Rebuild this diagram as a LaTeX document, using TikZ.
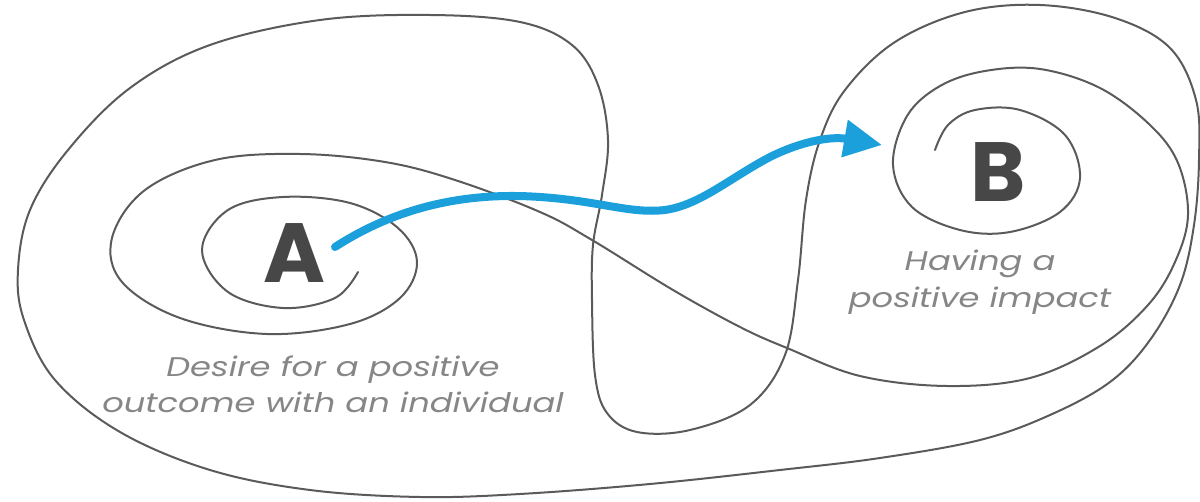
\documentclass[tikz,border=0pt]{standalone}
\usepackage{fontspec}
\setmainfont{Poppins}
\newfontfamily\capfont{Poppins}[FakeStretch=1.25]
\usetikzlibrary{arrows.meta}
\definecolor{linegray}{HTML}{5A5A5A}
\definecolor{arrowblue}{HTML}{1BA0DC}
\definecolor{lettergray}{HTML}{474747}
\definecolor{textgray}{HTML}{868686}
\tikzset{
  curve/.style={draw=linegray, line width=2pt, line join=round, line cap=round},
  flow/.style={draw=arrowblue, line width=8pt, line cap=round, -{Triangle[length=38pt,width=36pt]}},
  letter/.style={text=lettergray, font=\fontsize{84}{84}\selectfont\bfseries, inner sep=0pt, anchor=base},
  caption/.style={text=textgray, font=\capfont\fontsize{27}{27}\selectfont\itshape, inner sep=0pt, anchor=base}
}
\begin{document}
\begin{tikzpicture}[x=1pt,y=-1pt]
\useasboundingbox (0,0) rectangle (1200,502);
% outer closed loop
\draw[curve] plot[smooth cycle, tension=0.6] coordinates {
(430,15) (520,22) (572,45) (598,85) (608,140) (602,195) (593,245) (592,300)
(595,375) (607,413) (637,432) (690,430) (750,405) (785,355) (798,280) (806,200)
(820,140) (845,90) (895,42) (965,12) (1040,5) (1115,18) (1170,48) (1196,100)
(1199,160) (1194,225) (1180,285) (1150,340) (1110,382) (1050,415) (980,440)
(880,458) (780,470) (650,484) (520,494) (420,497) (310,490) (210,470) (120,432)
(55,380) (24,320) (18,270) (30,210) (68,150) (130,88) (210,45) (320,20)};
% spiral from A to B
\draw[curve] plot[smooth, tension=0.6] coordinates {
(358,272) (335,298) (283,308) (228,292) (202,250) (228,210) (283,197) (350,203)
(398,228) (417,262) (400,298) (350,324) (267,334) (180,318) (122,282) (112,238)
(145,190) (215,160) (300,154) (385,162) (455,180) (540,212) (592,240) (673,290)
(740,327) (787,348) (860,376) (947,386) (1030,378) (1100,346) (1148,305)
(1175,262) (1188,215) (1178,163) (1150,125) (1100,88) (1040,69) (985,71)
(940,86) (907,116) (893,165) (912,207) (960,230) (1010,232) (1060,212)
(1080,178) (1065,135) (1020,110) (975,110) (948,125) (935,150)};
\node[letter] (A) at (294,283) {A};
\node[letter] (B) at (998,202) {B};
\coordinate (start) at (335,247);
\coordinate (tip) at (882,145);
\draw[flow] (start) .. controls (400,205) and (470,192) .. (540,197)
  .. controls (600,201) and (630,214) .. (665,210)
  .. controls (700,205) and (730,178) .. (770,157)
  .. controls (800,142) and (830,136) .. (tip);
\node[caption] (a1) at (333,377) {Desire for a positive};
\node[caption] (a2) at (333,413) {outcome with an individual};
\node[caption] (b1) at (980,271) {Having a};
\node[caption] (b2) at (980,308) {positive impact};
\end{tikzpicture}
\end{document}
